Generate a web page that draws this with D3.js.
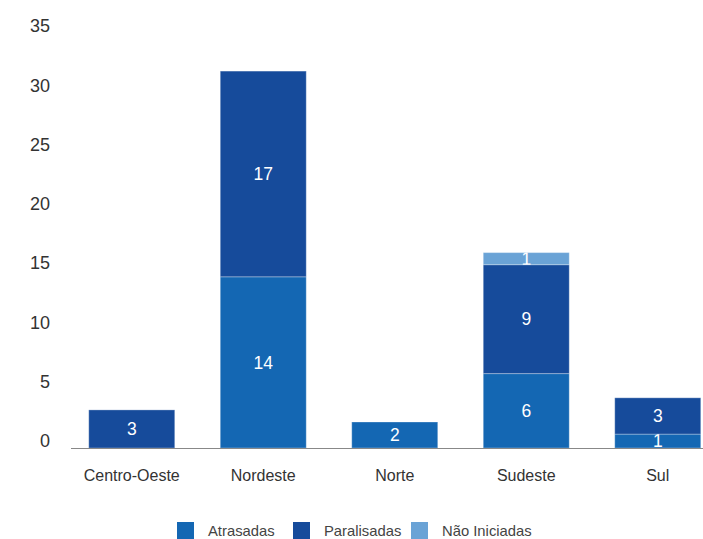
<!DOCTYPE html>
<html><head><meta charset="utf-8">
<script src="https://cdn.jsdelivr.net/npm/d3@7"></script>
<style>body{margin:0;background:#fff}svg{display:block;font-family:"Liberation Sans",Arial,sans-serif}</style>
</head><body>
<script>
const categories = ["Centro-Oeste","Nordeste","Norte","Sudeste","Sul"];
const seriesNames = ["Atrasadas","Paralisadas","Não Iniciadas"];
const atrasadas = [0,14,2,6,1];
const paralisadas = [3,17,0,9,3];
const naoIniciadas = [0,0,0,1,0];
const yTicks = [0,5,10,15,20,25,30,35];
const colors = ["#1467b3","#164b9b","#6aa3d6"];

const W=703,H=539;
const svg=d3.select("body").append("svg").attr("width",W).attr("height",H);
const rows=categories.map((c,i)=>({cat:c,"Atrasadas":atrasadas[i],"Paralisadas":paralisadas[i],"Não Iniciadas":naoIniciadas[i]}));
const stack=d3.stack().keys(seriesNames)(rows);
const x=d3.scaleBand().domain(categories).range([66,723.5]).paddingInner(0.346).paddingOuter(0.173);
const y=d3.scaleLinear().domain([0,35]).range([446.2,22.7]);
const yLab=d3.scaleLinear().domain([0,35]).range([441,26]);
const axisY=448;

// y tick labels
svg.append("g").selectAll("text").data(yTicks).join("text")
  .attr("x",50).attr("y",d=>yLab(d)).attr("dy","0.35em").attr("text-anchor","end")
  .attr("font-size",18).attr("fill","#333").text(d=>d);

const defs=svg.append("defs");
let cid=0;
stack.forEach((s,si)=>{
  s.forEach((d,i)=>{
    const v=d[1]-d[0]; if(v<=0) return;
    const bx=x(categories[i]), bw=x.bandwidth(), by=y(d[1]);
    const bottom = d[0]===0 ? axisY : y(d[0]);
    const bh=bottom-by;
    svg.append("rect").attr("x",bx).attr("y",by).attr("width",bw).attr("height",bh)
      .attr("fill",colors[si]).attr("stroke","rgba(255,255,255,0.3)").attr("stroke-width",1);
    const id="c"+(cid++);
    defs.append("clipPath").attr("id",id).append("rect").attr("x",bx).attr("y",by).attr("width",bw).attr("height",bh);
    svg.append("text").attr("clip-path","url(#"+id+")")
      .attr("x",bx+bw/2).attr("y",by+bh/2).attr("dy","0.36em").attr("text-anchor","middle")
      .attr("font-size",17.5).attr("fill","#fff").text(v);
  });
});

// axis line
svg.append("line").attr("x1",71).attr("x2",703).attr("y1",axisY+0.5).attr("y2",axisY+0.5).attr("stroke","#888").attr("stroke-width",1.2);

// category labels
svg.append("g").selectAll("text").data(categories).join("text")
  .attr("x",d=>x(d)+x.bandwidth()/2).attr("y",475).attr("dy","0.35em").attr("text-anchor","middle")
  .attr("font-size",16).attr("fill","#333").text(d=>d);

// legend
const legX=[177,293,411];
const lg=svg.append("g").selectAll("g").data(seriesNames).join("g");
lg.append("rect").attr("x",(d,i)=>legX[i]).attr("y",522).attr("width",17).attr("height",17).attr("fill",(d,i)=>colors[i]);
lg.append("text").attr("x",(d,i)=>legX[i]+31).attr("y",530).attr("dy","0.4em").attr("font-size",14.8).attr("fill","#444").text(d=>d);
</script>
</body></html>
